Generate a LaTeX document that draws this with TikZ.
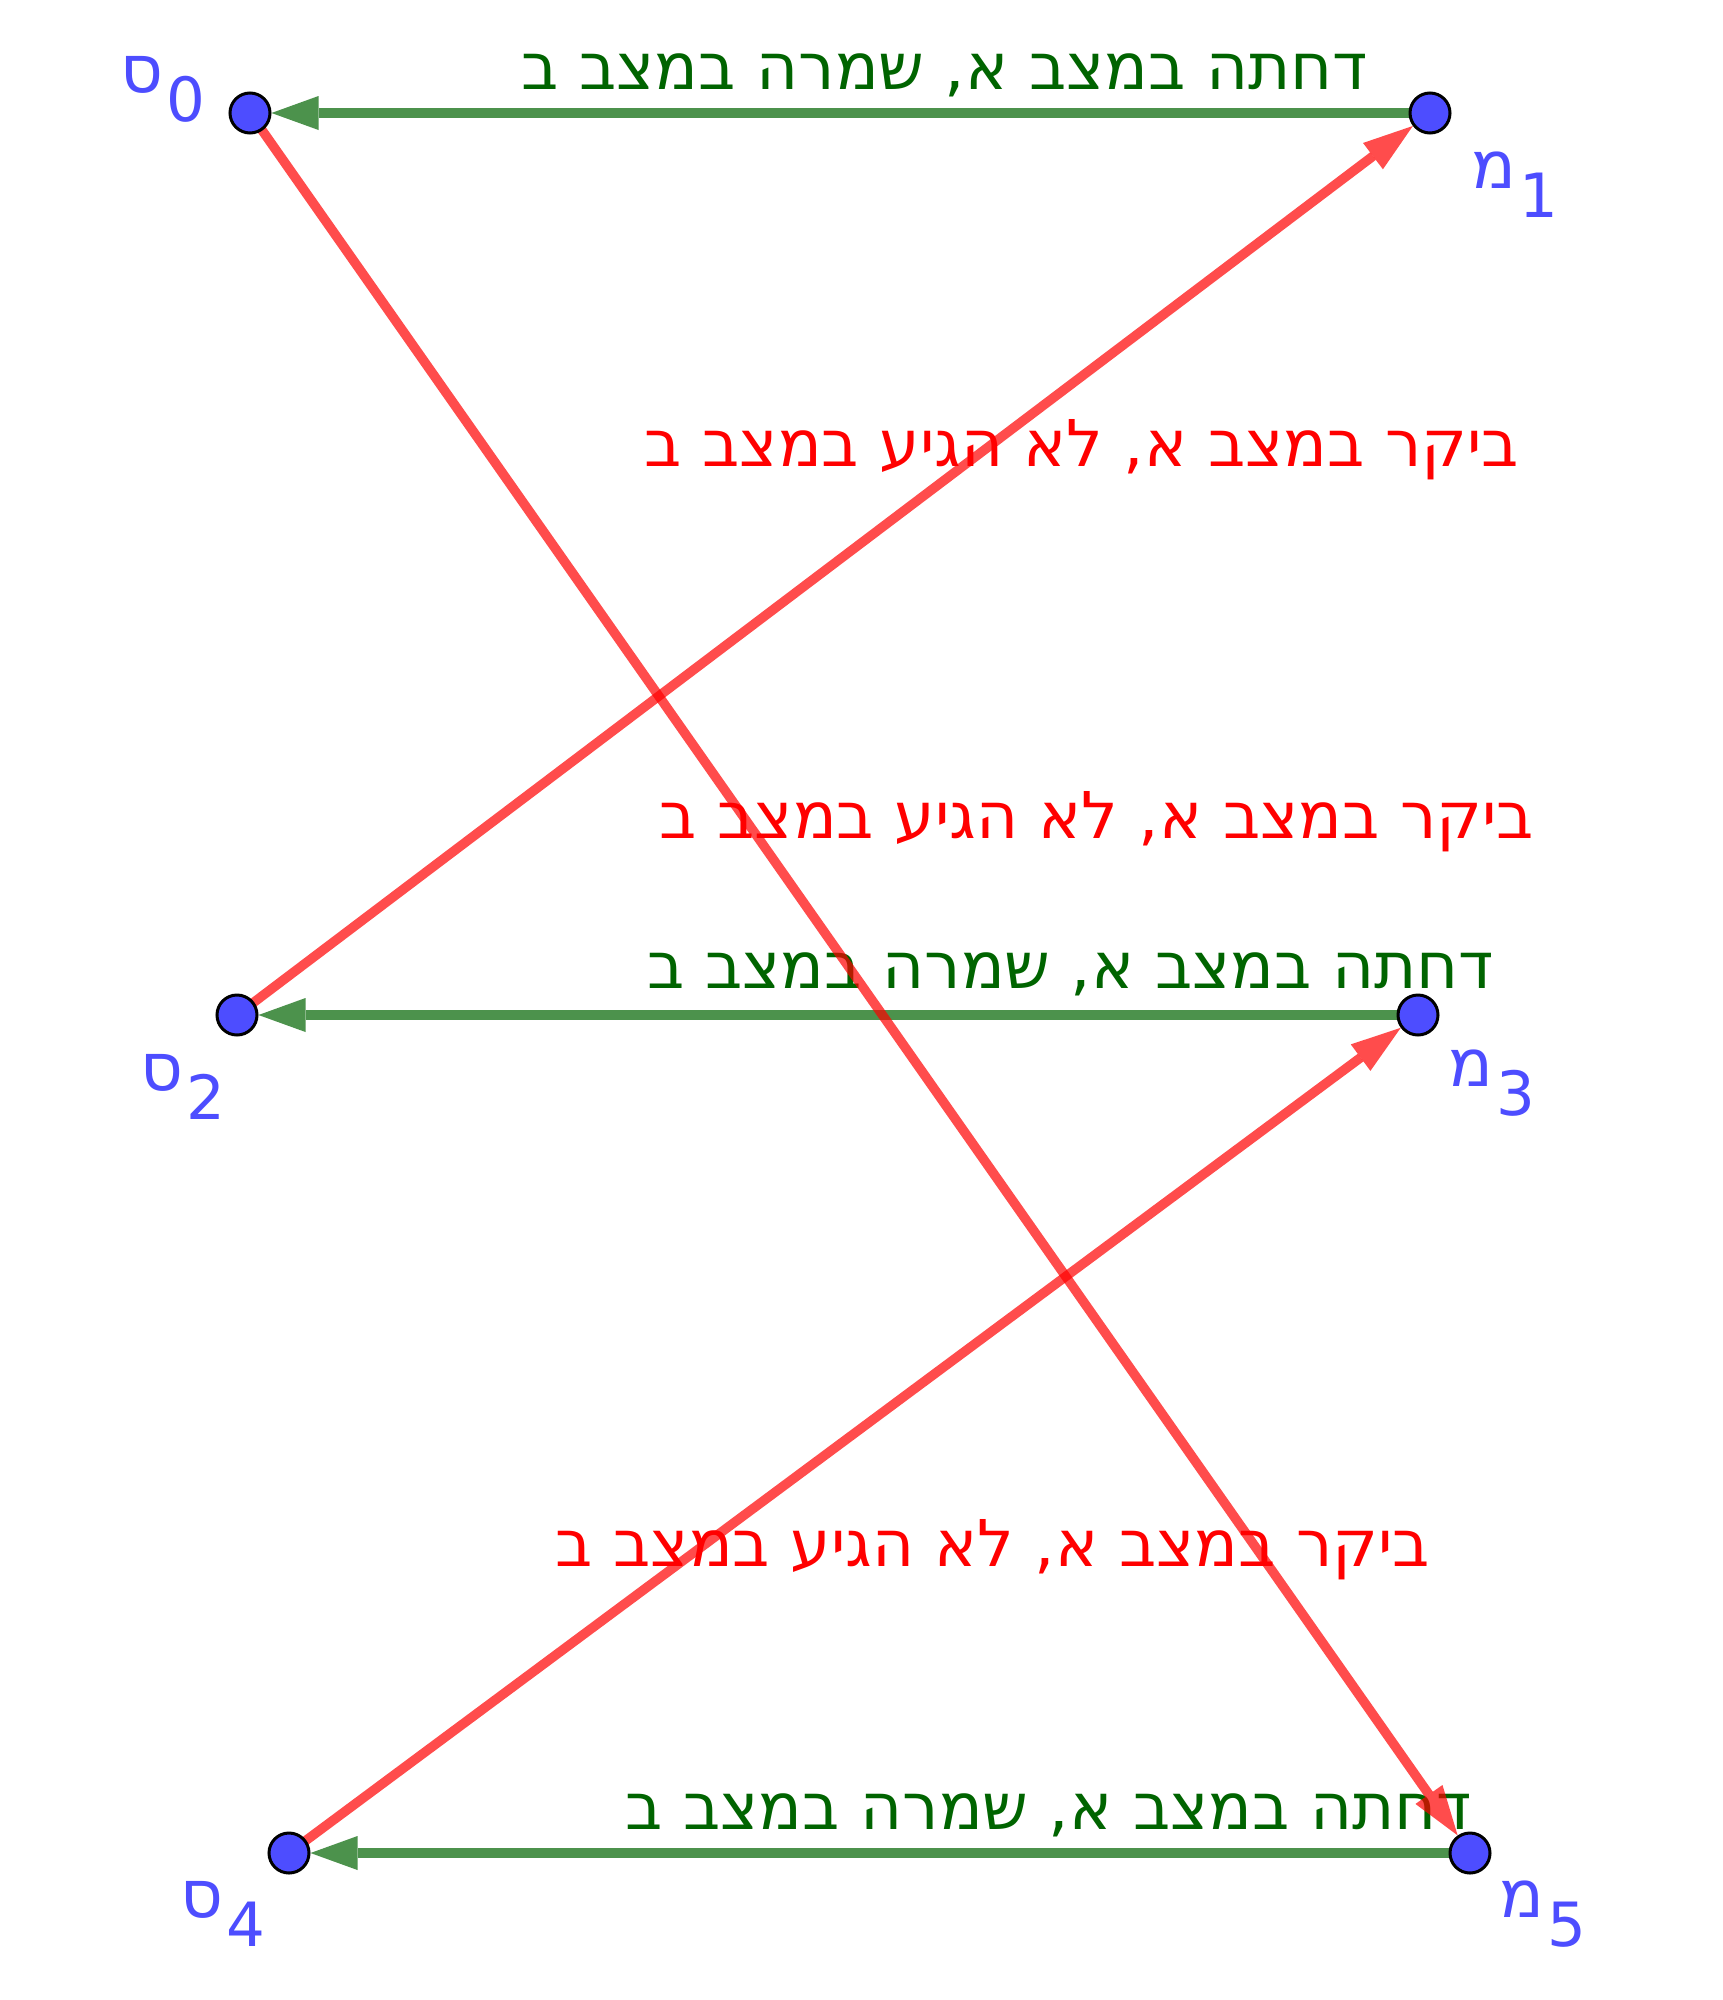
\documentclass[tikz,border=0pt]{standalone}
\usepackage{fontspec}
\usetikzlibrary{arrows.meta}
\TeXXeTstate=1
\newfontfamily\hebfont[Script=Hebrew]{DejaVu Sans}
\definecolor{ptblue}{RGB}{77,77,255}
\definecolor{txtgreen}{RGB}{0,100,0}
\tikzset{
  pt/.style={circle,fill=ptblue,draw=black,line width=3pt,minimum size=40pt,inner sep=0pt},
  garrow/.style={draw=txtgreen,draw opacity=0.7,fill opacity=0.7,line width=9.5pt,-{Triangle[length=47pt,width=34pt,line width=0pt,fill=txtgreen]}},
  rarrow/.style={draw=red,draw opacity=0.7,fill opacity=0.7,line width=9.5pt,-{Triangle[length=50pt,width=33pt,line width=0pt,fill=red]}},
  gtxt/.style={text=txtgreen,font=\hebfont\fontsize{64.5pt}{70pt}\selectfont,anchor=base,inner sep=0pt},
  rtxt/.style={text=red,font=\hebfont\fontsize{64.5pt}{70pt}\selectfont,anchor=base,inner sep=0pt},
  lbl/.style={text=ptblue,font=\hebfont\fontsize{61pt}{66pt}\selectfont,anchor=base west,inner sep=0pt}
}
\newcommand{\ptlabel}[2]{{\fontsize{66pt}{70pt}\selectfont #1}\kern3pt\raisebox{-29pt}{#2}}
\begin{document}
\begin{tikzpicture}[x=1pt,y=-1pt]
\useasboundingbox[fill=white] (0,0) rectangle (1723,2000);
% texts
\node[gtxt] (g1) at (945,89) {\beginR דחתה במצב א, שמרה במצב ב\endR};
\node[rtxt] (r1) at (1082,466) {\beginR ביקר במצב א, לא הגיע במצב ב\endR};
\node[rtxt] (r2) at (1097,838) {\beginR ביקר במצב א, לא הגיע במצב ב\endR};
\node[gtxt] (g2) at (1071,988) {\beginR דחתה במצב א, שמרה במצב ב\endR};
\node[rtxt] (r3) at (993,1566) {\beginR ביקר במצב א, לא הגיע במצב ב\endR};
\node[gtxt] (g3) at (1049,1829) {\beginR דחתה במצב א, שמרה במצב ב\endR};
% point labels
\node[lbl] (ls0) at (120,92) {\ptlabel{ס}{0}};
\node[lbl] (lm1) at (1471,188) {\ptlabel{מ}{1}};
\node[lbl] (ls2) at (140,1090) {\ptlabel{ס}{2}};
\node[lbl] (lm3) at (1448,1086) {\ptlabel{מ}{3}};
\node[lbl] (ls4) at (180,1917) {\ptlabel{ס}{4}};
\node[lbl] (lm5) at (1499,1917) {\ptlabel{מ}{5}};
% point coordinates
\coordinate (cs0) at (250,113);
\coordinate (cm1) at (1430,113);
\coordinate (cs2) at (237,1015);
\coordinate (cm3) at (1418,1015);
\coordinate (cs4) at (289,1853);
\coordinate (cm5) at (1470,1853);
% invisible nodes for borders
\path node[pt,draw=none,fill=none] (s0) at (cs0) {}
      node[pt,draw=none,fill=none] (m1) at (cm1) {}
      node[pt,draw=none,fill=none] (s2) at (cs2) {}
      node[pt,draw=none,fill=none] (m3) at (cm3) {}
      node[pt,draw=none,fill=none] (s4) at (cs4) {}
      node[pt,draw=none,fill=none] (m5) at (cm5) {};
% connectors
\draw[garrow] (m1.center) -- (s0);
\draw[garrow] (m3.center) -- (s2);
\draw[garrow] (m5.center) -- (s4);
\draw[rarrow] (s0.center) -- (m5);
\draw[rarrow] (s2.center) -- (m1);
\draw[rarrow] (s4.center) -- (m3);
% points
\foreach \p in {s0,m1,s2,m3,s4,m5} \node[pt] at (\p.center) {};
\end{tikzpicture}
\end{document}
